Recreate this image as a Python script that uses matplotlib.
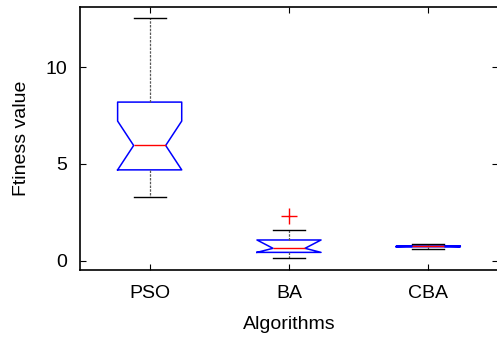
import matplotlib
matplotlib.use("Agg")
import matplotlib.pyplot as plt

# box statistics for each algorithm (fitness values)
algorithms = ["PSO", "BA", "CBA"]
medians = [5.95, 0.64, 0.74]
q1 = [4.69, 0.43, 0.72]
q3 = [8.19, 1.07, 0.76]
whislo = [3.31, 0.12, 0.63]
whishi = [12.55, 1.59, 0.84]
ci_low = [4.69, 0.43, 0.72]
ci_high = [7.21, 1.07, 0.76]
fliers = [[], [2.33], []]

plt.rcParams['font.family'] = ['Liberation Sans', 'DejaVu Sans']

stats = []
for i, name in enumerate(algorithms):
    stats.append(dict(label=name, med=medians[i], q1=q1[i], q3=q3[i],
                      whislo=whislo[i], whishi=whishi[i],
                      cilo=ci_low[i], cihi=ci_high[i], fliers=fliers[i]))

fig = plt.figure(figsize=(4.97, 3.43), dpi=100)
ax = fig.add_axes([80 / 497, 73 / 343, 418 / 497, 263 / 343])

ax.bxp(stats, shownotches=True, widths=0.46,
       boxprops=dict(color="blue", linewidth=1.1),
       medianprops=dict(color="red", linewidth=1.0),
       whiskerprops=dict(color="0.35", linewidth=0.9, linestyle="--", dashes=(2, 1)),
       capprops=dict(color="black", linewidth=1.0),
       flierprops=dict(marker="+", markeredgecolor="red", markersize=12, markeredgewidth=1.0))

ax.set_xlim(0.5, 3.5)
ax.set_ylim(-0.48, 13.1)
ax.set_yticks([0, 5, 10])
ax.tick_params(direction="in", top=True, right=True, length=4, labelsize=14)
ax.tick_params(axis="x", pad=11)
ax.tick_params(axis="y", pad=9)
ax.set_xlabel("Algorithms", fontsize=14, labelpad=10)
ax.set_ylabel("Ftiness value", fontsize=14, labelpad=11)
for s in ax.spines.values():
    s.set_linewidth(1.2)

fig.savefig("out.png", dpi=100)
